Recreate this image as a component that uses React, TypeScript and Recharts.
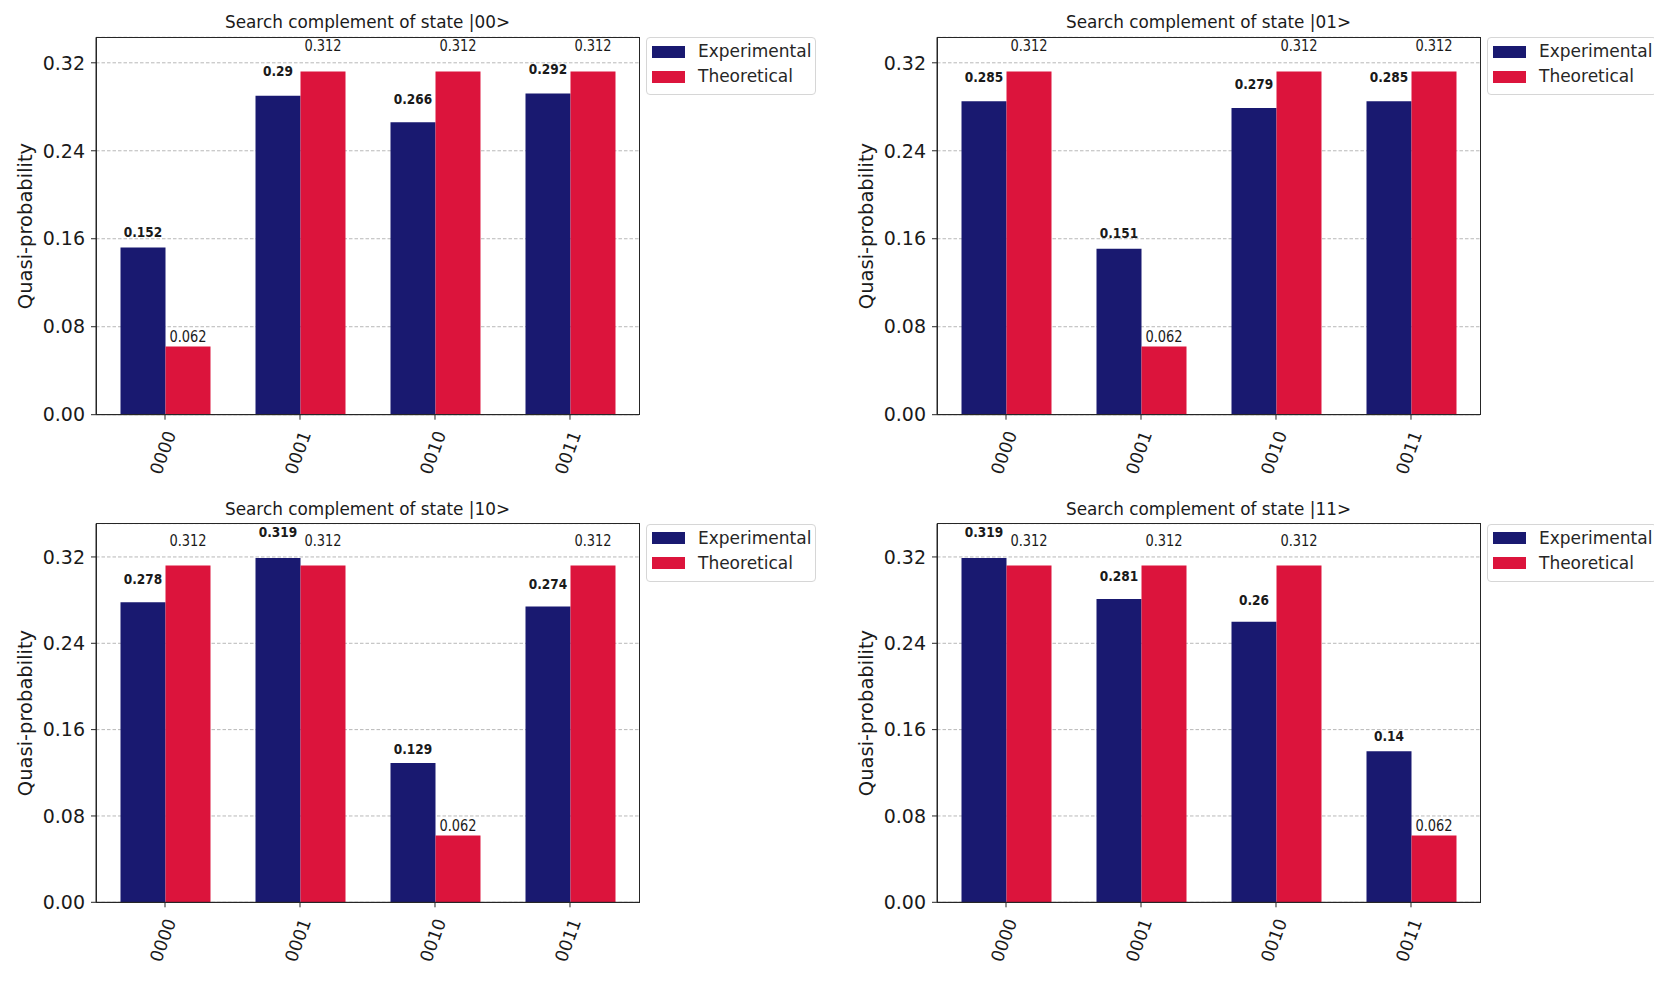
import React from 'react';
import { BarChart, Bar, XAxis, YAxis, CartesianGrid, LabelList } from 'recharts';

const states = ['0000', '0001', '0010', '0011'];
const titles = [
  'Search complement of state |00>',
  'Search complement of state |01>',
  'Search complement of state |10>',
  'Search complement of state |11>',
];
const experimental00 = [0.152, 0.29, 0.266, 0.292];
const theoretical00 = [0.062, 0.312, 0.312, 0.312];
const experimental01 = [0.285, 0.151, 0.279, 0.285];
const theoretical01 = [0.312, 0.062, 0.312, 0.312];
const experimental10 = [0.278, 0.319, 0.129, 0.274];
const theoretical10 = [0.312, 0.312, 0.062, 0.312];
const experimental11 = [0.319, 0.281, 0.26, 0.14];
const theoretical11 = [0.312, 0.312, 0.312, 0.062];
const yTicks = [0, 0.08, 0.16, 0.24, 0.32];
const seriesNames = ['Experimental', 'Theoretical'];
const seriesColors = ['#191970', '#DC143C'];

const TEXT = '#1a1a1a';
const AXIS = '#262626';
const PANEL_W = 827;
const PLOT_W = 543;

// one subplot: px/py = plot area corner inside the panel
const panels = [
  { title: titles[0], exp: experimental00, theo: theoretical00, left: 0, top: 0, px: 96, py: 37.3, plotH: 377.4 },
  { title: titles[1], exp: experimental01, theo: theoretical01, left: 827, top: 0, px: 110, py: 37.3, plotH: 377.4 },
  { title: titles[2], exp: experimental10, theo: theoretical10, left: 0, top: 486, px: 96, py: 37.6, plotH: 378.7 },
  { title: titles[3], exp: experimental11, theo: theoretical11, left: 827, top: 486, px: 110, py: 37.6, plotH: 378.7 },
];

const ValueLabel = (props: any) => {
  const { value, bold } = props;
  const vb = props.viewBox ?? props;
  const x = Number(vb.x ?? props.x);
  const y = Number(vb.y ?? props.y);
  const width = Number(vb.width ?? props.width);
  const height = Number(vb.height ?? props.height);
  const cx = x + width / 2;
  const cy = y - (6 + 0.057 * height);
  return (
    <text
      transform={`translate(${cx},${cy}) scale(0.84,1)`}
      textAnchor="middle"
      dominantBaseline="central"
      fontSize={bold ? 14.5 : 15.5}
      fontWeight={bold ? 'bold' : 'normal'}
      fill={TEXT}
    >
      {value}
    </text>
  );
};

const StateTick = (props: any) => {
  const { x, y, payload } = props;
  return (
    <text
      transform={`translate(${x - 2},${y + 33}) rotate(-70)`}
      textAnchor="middle"
      dominantBaseline="central"
      fontSize={17.5}
      fill={TEXT}
    >
      {payload.value}
    </text>
  );
};

const Panel = ({ p }: { p: any }) => {
  const data = states.map((s, i) => ({ state: s, experimental: p.exp[i], theoretical: p.theo[i] }));
  const yMax = Math.max(...p.exp, ...p.theo) * 1.1;
  const chartH = p.py + p.plotH + 70;
  const plotRight = p.px + PLOT_W;

  return (
    <div style={{ position: 'absolute', left: p.left, top: p.top, width: PANEL_W, height: chartH }}>
      <BarChart
        width={PANEL_W}
        height={chartH}
        data={data}
        barSize={45}
        barGap={0}
        margin={{ top: p.py, right: PANEL_W - plotRight, bottom: 0, left: p.px - 60 }}
      >
        <CartesianGrid vertical={false} stroke="#b8b8b8" strokeDasharray="3.5 2" />
        <XAxis
          dataKey="state"
          interval={0}
          padding={{ left: 1.5, right: 1.5 }}
          height={70}
          tickSize={5}
          tickMargin={0}
          tickLine={{ stroke: AXIS }}
          axisLine={{ stroke: AXIS }}
          tick={<StateTick />}
        />
        <YAxis
          domain={[0, yMax]}
          ticks={yTicks}
          width={60}
          tickSize={5}
          tickMargin={6}
          tickFormatter={(v: number) => v.toFixed(2)}
          tick={{ fontSize: 19, fill: TEXT }}
          tickLine={{ stroke: AXIS }}
          axisLine={{ stroke: AXIS }}
        />
        <Bar dataKey="experimental" name={seriesNames[0]} fill={seriesColors[0]} isAnimationActive={false}>
          <LabelList dataKey="experimental" content={(lp: any) => <ValueLabel {...lp} bold />} />
        </Bar>
        <Bar dataKey="theoretical" name={seriesNames[1]} fill={seriesColors[1]} isAnimationActive={false}>
          <LabelList dataKey="theoretical" content={(lp: any) => <ValueLabel {...lp} />} />
        </Bar>
      </BarChart>

      {/* axes frame (top and right spines) */}
      <div
        style={{
          position: 'absolute', left: p.px - 0.5, top: p.py - 0.5, width: PLOT_W + 1, height: p.plotH + 1,
          border: `1px solid ${AXIS}`, boxSizing: 'border-box', pointerEvents: 'none',
        }}
      />

      {/* title */}
      <div
        style={{
          position: 'absolute', left: p.px, top: p.py - 24, width: PLOT_W, textAlign: 'center',
          fontSize: 18.5, lineHeight: 1, color: TEXT, whiteSpace: 'nowrap', transform: 'scaleX(0.91)',
        }}
      >
        {p.title}
      </div>

      {/* y axis label */}
      <div
        style={{
          position: 'absolute', left: p.px - 70, top: p.py + p.plotH / 2, fontSize: 19.5, lineHeight: 1,
          color: TEXT, whiteSpace: 'nowrap', transform: 'translate(-50%, -50%) rotate(-90deg)',
        }}
      >
        Quasi-probability
      </div>

      {/* legend */}
      <div
        style={{
          position: 'absolute', left: plotRight + 7, top: p.py, width: 170, height: 58,
          border: '1px solid #d6d6d6', borderRadius: 4, background: '#fff', boxSizing: 'border-box',
        }}
      >
        {seriesNames.map((name, i) => (
          <div key={name} style={{ position: 'absolute', left: 5, top: 7.5 + i * 25, height: 12, width: 165 }}>
            <div style={{ position: 'absolute', left: 0, top: 0, width: 33, height: 12, background: seriesColors[i] }} />
            <div style={{ position: 'absolute', left: 46, top: -3.5, fontSize: 17, lineHeight: '19px', color: AXIS, whiteSpace: 'nowrap' }}>
              {name}
            </div>
          </div>
        ))}
      </div>
    </div>
  );
}

export default function App() {
  return (
    <div
      style={{
        position: 'absolute', left: 0, top: 0, width: 1654, height: 985, overflow: 'hidden',
        background: '#fff', fontFamily: "'DejaVu Sans', sans-serif",
      }}
    >
      {panels.map((p) => (
        <Panel key={p.title} p={p} />
      ))}
    </div>
  );
}
